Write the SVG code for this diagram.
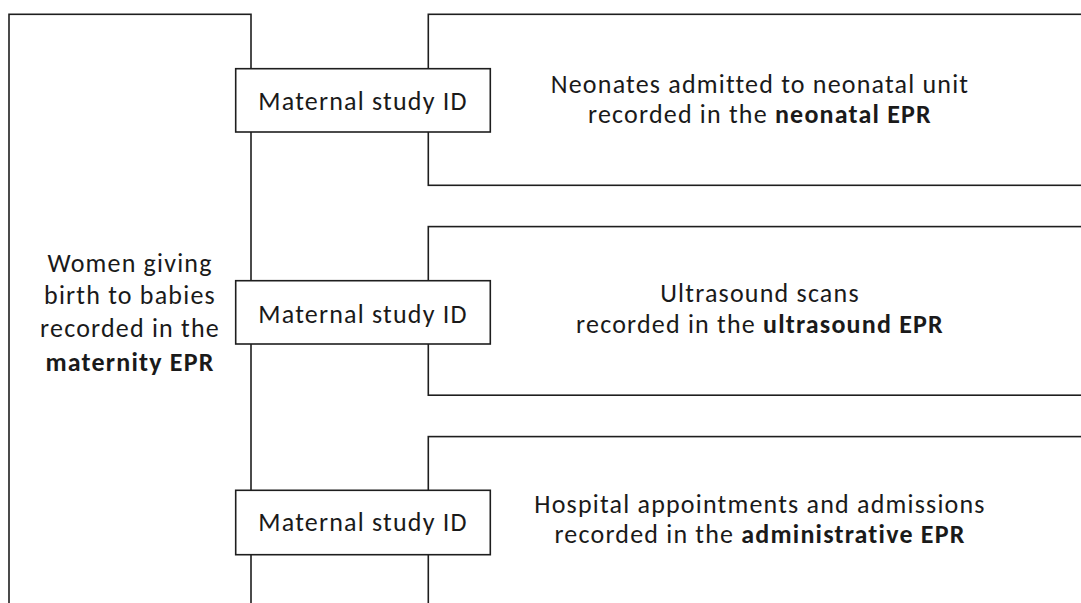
<svg xmlns="http://www.w3.org/2000/svg" width="1081" height="603" viewBox="0 0 1081 603">
  <style>
    .box { fill: #ffffff; stroke: #1e1e1e; stroke-width: 1.6; }
    .t { font-family: Calibri, Carlito, Lato, "Liberation Sans", sans-serif; font-size: 26px; letter-spacing: 1.2px; fill: #1a1a1a; text-anchor: middle; }
    .b { font-weight: bold; }
  </style>
  <rect x="0" y="0" width="1081" height="603" fill="#ffffff"/>

  <!-- source cohort: maternity record -->
  <g id="maternity">
    <rect class="box" x="9" y="14.3" width="242" height="620"/>
    <text class="t" x="130" y="272">Women giving</text>
    <text class="t" x="130" y="304">birth to babies</text>
    <text class="t" x="130" y="337">recorded in the</text>
    <text class="t b" x="130" y="370.5">maternity EPR</text>
  </g>

  <!-- linked datasets -->
  <g id="neonatal">
    <rect class="box" x="428.3" y="14.3" width="700" height="171"/>
    <text class="t" x="760" y="93.3">Neonates admitted to neonatal unit</text>
    <text class="t" x="760" y="123.3">recorded in the <tspan class="b">neonatal EPR</tspan></text>
  </g>
  <g id="ultrasound">
    <rect class="box" x="428.3" y="226.6" width="700" height="168.6"/>
    <text class="t" x="760" y="301.7">Ultrasound scans</text>
    <text class="t" x="760" y="333.3">recorded in the <tspan class="b">ultrasound EPR</tspan></text>
  </g>
  <g id="administrative">
    <rect class="box" x="428.3" y="436.6" width="700" height="220"/>
    <text class="t" x="760" y="513.3">Hospital appointments and admissions</text>
    <text class="t" x="760" y="543.3">recorded in the <tspan class="b">administrative EPR</tspan></text>
  </g>

  <!-- linkage keys -->
  <g id="key-neonatal">
    <rect class="box" x="235.7" y="68.7" width="254.6" height="63.3"/>
    <text class="t" x="363" y="110">Maternal study ID</text>
  </g>
  <g id="key-ultrasound">
    <rect class="box" x="235.7" y="280.7" width="254.6" height="63.3"/>
    <text class="t" x="363" y="322.5">Maternal study ID</text>
  </g>
  <g id="key-administrative">
    <rect class="box" x="235.7" y="490.3" width="254.6" height="64.4"/>
    <text class="t" x="363" y="530.7">Maternal study ID</text>
  </g>
</svg>
